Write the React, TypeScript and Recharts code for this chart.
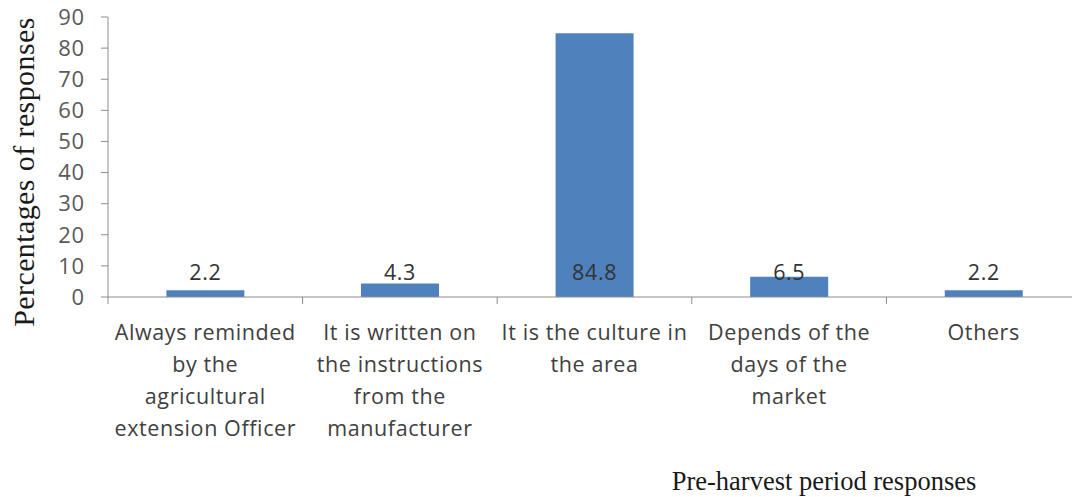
import React from "react";
import { BarChart, Bar, XAxis, YAxis, LabelList } from "recharts";

const categories: string[][] = [
  ["Always reminded", "by the", "agricultural", "extension Officer"],
  ["It is written on", "the instructions", "from the", "manufacturer"],
  ["It is the culture in", "the area"],
  ["Depends of the", "days of the", "market"],
  ["Others"],
];
const values: number[] = [2.2, 4.3, 84.8, 6.5, 2.2];
const yTicks: number[] = [0, 10, 20, 30, 40, 50, 60, 70, 80, 90];
const yTitle = "Percentages  of responses";
const xTitle = "Pre-harvest period responses";

const data = categories.map((c, i) => ({ name: c.join(" "), lines: c, value: values[i] }));

const AXIS = "#8c8c8c";
const SANS = "'Open Sans', 'Liberation Sans', sans-serif";
const SERIF = "'Liberation Serif', 'DejaVu Serif', serif";

const CatTick = (props: any) => {
  const { x, y, payload, index } = props;
  const lines: string[] = data[index]?.lines ?? [String(payload.value)];
  const off = payload.offset ?? 0;
  return (
    <g>
      <line x1={x - off} x2={x - off} y1={y} y2={y + 7} stroke={AXIS} strokeWidth={1} />
      {index === data.length - 1 && (
        <line x1={x + off} x2={x + off} y1={y} y2={y + 7} stroke={AXIS} strokeWidth={1} />
      )}
      <text
        x={x}
        y={y}
        textAnchor="middle"
        fill="#404040"
        fontFamily={SANS}
        fontSize={21.5}
        letterSpacing={0.6}
      >
        {lines.map((l, i) => (
          <tspan key={i} x={x} y={y + 43 + i * 32}>
            {l}
          </tspan>
        ))}
      </text>
    </g>
  );
};

const ValueLabel = (props: any) => {
  const { x, y, width, height, value } = props;
  return (
    <text
      x={x + width / 2}
      y={y + height - 17}
      textAnchor="middle"
      fill="#333333"
      fontFamily={SANS}
      fontSize={21.5}
      letterSpacing={0.6}
    >
      {value}
    </text>
  );
};

const YTitle = (props: any) => {
  const vb = props.viewBox;
  const cx = vb.x + 34;
  const cy = vb.y + vb.height / 2 + 15;
  return (
    <text
      x={cx}
      y={cy}
      transform={`rotate(-90 ${cx} ${cy})`}
      textAnchor="middle"
      fill="#1a1a1a"
      fontFamily={SERIF}
      fontSize={30}
      letterSpacing={0.4}
    >
      {yTitle}
    </text>
  );
};

const XTitle = (props: any) => {
  const vb = props.viewBox;
  return (
    <text
      x={vb.x + 716}
      y={vb.y + 193}
      textAnchor="middle"
      fill="#1a1a1a"
      fontFamily={SERIF}
      fontSize={26.5}
    >
      {xTitle}
    </text>
  );
};

export default function App() {
  return (
    <div
      style={{
        position: "absolute",
        left: 0,
        top: 0,
        width: 1072,
        height: 497,
        overflow: "hidden",
        background: "#ffffff",
      }}
    >
      <BarChart
        width={1085}
        height={497}
        data={data}
        margin={{ top: 17, right: 4, bottom: 0, left: 0 }}
        barCategoryGap="30%"
      >
        <XAxis
          dataKey="name"
          height={200}
          stroke={AXIS}
          tickLine={false}
          tickSize={0}
          tickMargin={0}
          interval={0}
          tick={<CatTick />}
          label={<XTitle />}
        />
        <YAxis
          width={108}
          domain={[0, 90]}
          ticks={yTicks}
          interval={0}
          stroke={AXIS}
          tickSize={7}
          tickMargin={16}
          tick={{ fill: "#595959", fontFamily: SANS, fontSize: 22, letterSpacing: 0.8 }}
          label={<YTitle />}
        />
        <Bar dataKey="value" fill="#4F81BD" isAnimationActive={false}>
          <LabelList dataKey="value" content={<ValueLabel />} />
        </Bar>
      </BarChart>
    </div>
  );
}
